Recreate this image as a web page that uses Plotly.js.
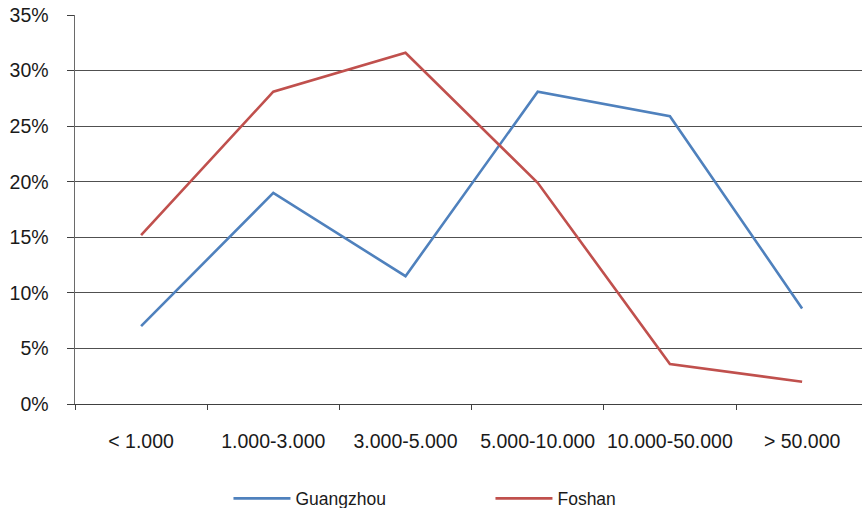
<!DOCTYPE html>
<html>
<head>
<meta charset="utf-8">
<script src="https://cdn.plot.ly/plotly-3.0.1.min.js"></script>
<style>html,body{margin:0;padding:0;background:#fff;}#chart{width:863px;height:508px;}</style>
</head>
<body>
<div id="chart"></div>
<script>
var categories = ["< 1.000", "1.000-3.000", "3.000-5.000", "5.000-10.000", "10.000-50.000", "> 50.000"];
var guangzhou = [0.07, 0.19, 0.115, 0.281, 0.259, 0.086];
var foshan = [0.152, 0.281, 0.316, 0.199, 0.036, 0.020];
var yTickVals = [0, 0.05, 0.10, 0.15, 0.20, 0.25, 0.30, 0.35];
var yTickText = ["0%", "5%", "10%", "15%", "20%", "25%", "30%", "35%"];

var font = {family: "Liberation Sans, Arial, Helvetica, sans-serif", size: 19.5, color: "#1a1a1a"};

var data = [
  {x: categories, y: guangzhou, type: "scatter", mode: "lines", name: "Guangzhou",
   line: {color: "#4f81bd", width: 2.6}},
  {x: categories, y: foshan, type: "scatter", mode: "lines", name: "Foshan",
   line: {color: "#c0504d", width: 2.6}}
];

var layout = {
  width: 863, height: 508,
  margin: {l: 75, r: 1, t: 15, b: 103.5, autoexpand: false},
  paper_bgcolor: "#fff", plot_bgcolor: "#fff",
  font: font,
  showlegend: true,
  legend: {orientation: "h", x: 0.195, xanchor: "left", y: -0.243, yanchor: "middle",
           font: {family: font.family, size: 17.5, color: "#1a1a1a"},
           entrywidth: 190, entrywidthmode: "pixels", itemwidth: 57},
  xaxis: {
    type: "category", range: [-0.5, 5.453], tickson: "boundaries",
    ticks: "outside", ticklen: 5, tickcolor: "#404040", tickwidth: 1,
    showline: true, linecolor: "#404040", linewidth: 1,
    showgrid: false, zeroline: false, ticklabelstandoff: 20,
    tickangle: 0, automargin: false,
    tickfont: font, fixedrange: true
  },
  yaxis: {
    range: [0, 0.35], tickvals: yTickVals, ticktext: yTickText,
    ticks: "outside", ticklen: 7, tickcolor: "#404040", tickwidth: 1,
    showline: true, linecolor: "#6a6a6a", linewidth: 1.5,
    showgrid: true, gridcolor: "#505050", gridwidth: 1,
    zeroline: false, ticklabelstandoff: 14, automargin: false,
    tickfont: font, fixedrange: true
  }
};

Plotly.newPlot("chart", data, layout, {displayModeBar: false, staticPlot: true});
</script>
</body>
</html>
